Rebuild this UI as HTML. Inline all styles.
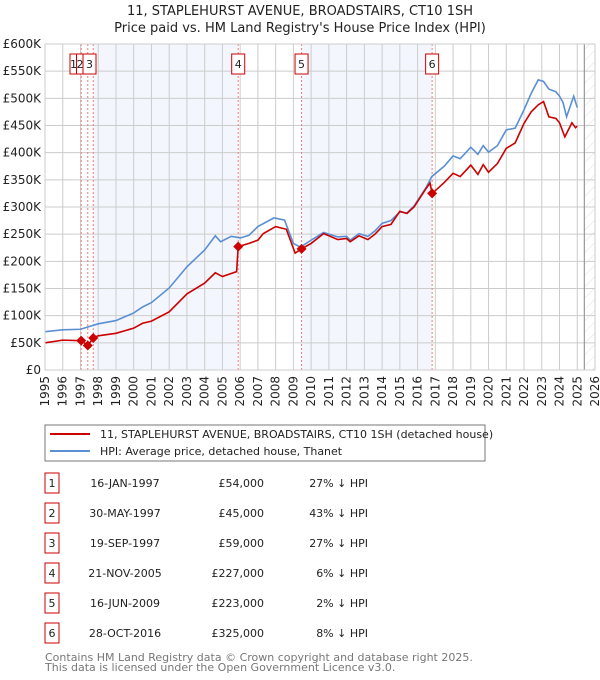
<!DOCTYPE html>
<html><head><meta charset="utf-8"><style>
body{margin:0;background:#fff;}
svg{display:block;font-family:"DejaVu Sans","Liberation Sans",sans-serif;}
</style></head><body>
<svg id="chart" width="600" height="680" viewBox="0 0 600 680" xmlns="http://www.w3.org/2000/svg">
<defs><pattern id="hatch" width="8" height="8" patternUnits="userSpaceOnUse" patternTransform="rotate(45)"><line x1="0" y1="0" x2="0" y2="8" stroke="#d8d8d8" stroke-width="0.8"/></pattern></defs>
<text x="300" y="15" text-anchor="middle" font-size="13" fill="#222">11, STAPLEHURST AVENUE, BROADSTAIRS, CT10 1SH</text>
<text x="300" y="32" text-anchor="middle" font-size="13" fill="#222">Price paid vs. HM Land Registry's House Price Index (HPI)</text>
<g id="plot"></g>
<g>
<rect x="45" y="425" width="440" height="36" fill="#fff" stroke="#777"/>
<line x1="50" y1="434" x2="90" y2="434" stroke="#cc0000" stroke-width="2"/>
<text x="100" y="438" font-size="11" fill="#222">11, STAPLEHURST AVENUE, BROADSTAIRS, CT10 1SH (detached house)</text>
<line x1="50" y1="451" x2="90" y2="451" stroke="#5b8fd4" stroke-width="2"/>
<text x="100" y="455" font-size="11" fill="#222">HPI: Average price, detached house, Thanet</text>
</g>
<g id="table"></g>
<text x="45" y="661" font-size="11" fill="#777">Contains HM Land Registry data © Crown copyright and database right 2025.</text>
<text x="45" y="671" font-size="11" fill="#777">This data is licensed under the Open Government Licence v3.0.</text>
</svg>
<script>
const hpiYears=[1995,1996,1997,1998,1999,2000,2000.5,2001,2002,2003,2004,2004.6,2004.9,2005.5,2006,2006.5,2007,2007.9,2008.5,2009,2009.4,2010,2010.7,2011,2011.5,2012,2012.2,2012.7,2013.2,2013.6,2014,2014.5,2015,2015.4,2015.8,2016.5,2016.8,2017.5,2018,2018.4,2019,2019.4,2019.7,2020,2020.5,2021,2021.5,2022,2022.4,2022.8,2023.1,2023.4,2023.8,2024,2024.2,2024.4,2024.8,2025];
const hpiValues=[70.5,74,75,85,91,105,116,124,151,190,221,247,236,246,243,248,264,280,276,233,226,239,253,250,245,246,239,251,246,256,270,275,291,289,302,337,356,375,394,389,410,397,413,401,413,442,445,479,509,534,531,517,512,504,492,466,504,483];
const propYears=[1995,1996,1997.04,1997.41,1997.72,1998,1999,2000,2000.5,2001,2002,2003,2004,2004.6,2005,2005.8,2005.89,2006.5,2007,2007.3,2008,2008.6,2009.1,2009.46,2010,2010.7,2011,2011.5,2012,2012.2,2012.7,2013.2,2013.6,2014,2014.5,2015,2015.4,2015.8,2016.5,2016.7,2016.82,2017.2,2017.5,2018,2018.4,2019,2019.4,2019.7,2020,2020.5,2021,2021.5,2022,2022.4,2022.8,2023.1,2023.4,2023.8,2024,2024.3,2024.7,2024.9,2025];
const propValues=[50,55,54,45,59,63,67.5,77,86,90,107,140,160,179,172,181,227,233,239,251,264,259,215,223,233,251,247,240,242,236,247,240,250,264,268,292,288,300,335,344,325,336,345,362,356,377,360,378,364,380,408,418,454,475,488,494,466,463,455,429,455,446,449];
const saleLabels=["1","2","3","4","5","6"];
const saleYears=[1997.04,1997.41,1997.72,2005.89,2009.46,2016.82];
const salePrices=[54,45,59,227,223,325];
const saleDates=["16-JAN-1997","30-MAY-1997","19-SEP-1997","21-NOV-2005","16-JUN-2009","28-OCT-2016"];
const salePriceText=["£54,000","£45,000","£59,000","£227,000","£223,000","£325,000"];
const salePct=["27% ↓ HPI","43% ↓ HPI","27% ↓ HPI","6% ↓ HPI","2% ↓ HPI","8% ↓ HPI"];
const yTicks=[0,50,100,150,200,250,300,350,400,450,500,550,600];
const yTickLabels=["£0","£50K","£100K","£150K","£200K","£250K","£300K","£350K","£400K","£450K","£500K","£550K","£600K"];
const xTicks=[1995,1996,1997,1998,1999,2000,2001,2002,2003,2004,2005,2006,2007,2008,2009,2010,2011,2012,2013,2014,2015,2016,2017,2018,2019,2020,2021,2022,2023,2024,2025,2026];

const L=45,R=595,T=44,B=370,X0=1995,X1=2026,YMAX=600;
const sx=y=>L+(y-X0)/(X1-X0)*(R-L);
const sy=v=>B-v/YMAX*(B-T);
const NS="http://www.w3.org/2000/svg";
const plot=document.getElementById('plot');
function mk(tag,attrs,parent){const e=document.createElementNS(NS,tag);for(const k in attrs)e.setAttribute(k,attrs[k]);(parent||plot).appendChild(e);return e;}

let e;
e=mk('rect',{x:sx(saleYears[2]),y:T,width:sx(saleYears[3])-sx(saleYears[2]),height:B-T,fill:'#f3f6fd'});


e=mk('rect',{x:sx(saleYears[4]),y:T,width:sx(saleYears[5])-sx(saleYears[4]),height:B-T,fill:'#f3f6fd'});


e=mk('rect',{x:sx(2025.4),y:T,width:R-sx(2025.4),height:B-T,fill:'url(#hatch)'});


xTicks.forEach((t,i)=>{
 e=mk('line',{x1:sx(t),x2:sx(t),y1:T,y2:B,stroke:'#ccc','stroke-width':1});
 
 
 e=mk('text',{x:0,y:0,transform:`translate(${sx(t)+4},${B+6}) rotate(-90)`,'text-anchor':'end','font-size':12,fill:'#222'});
 e.textContent=t;
 
 
});
yTicks.forEach((t,i)=>{
 e=mk('line',{x1:L,x2:R,y1:sy(t),y2:sy(t),stroke:'#ccc','stroke-width':1});
 
 
 e=mk('text',{x:L-4,y:sy(t)+4,'text-anchor':'end','font-size':12,fill:'#222'});
 e.textContent=yTickLabels[i];
 
 
});
e=mk('line',{x1:sx(2025.4),x2:sx(2025.4),y1:T,y2:B,stroke:'#999','stroke-width':1.2});


saleYears.forEach((y,i)=>{
 e=mk('line',{x1:sx(y),x2:sx(y),y1:T,y2:B,stroke:'#f37a7a','stroke-width':1,'stroke-dasharray':'2,2'});
 
 
});
e=mk('polyline',{points:hpiYears.map((y,i)=>sx(y)+','+sy(hpiValues[i])).join(' '),fill:'none',stroke:'#5b8fd4','stroke-width':1.6});


e=mk('polyline',{points:propYears.map((y,i)=>sx(y)+','+sy(propValues[i])).join(' '),fill:'none',stroke:'#cc0000','stroke-width':1.6});


saleYears.forEach((y,i)=>{
 const cx=sx(y),cy=sy(salePrices[i]);
 e=mk('path',{d:`M${cx},${cy-5}L${cx+5},${cy}L${cx},${cy+5}L${cx-5},${cy}Z`,fill:'#cc0000'});
 
 
});
saleYears.forEach((y,i)=>{
 let cx=sx(y); if(i<3) cx=[73.5,80,89.5][i];
 const w=i<2?7:13;
 e=mk('rect',{x:cx-w/2,y:54,width:w,height:20,fill:'#fff',stroke:'#cc0000','stroke-width':1});
 
 
 e=mk('text',{x:cx,y:68,'text-anchor':'middle','font-size':11,fill:'#222'});
 e.textContent=saleLabels[i];
 
 
});
const tb=document.getElementById('table');
saleLabels.forEach((s,i)=>{
 const cy=483+i*30;
 e=mk('rect',{x:45,y:cy-10,width:14,height:20,fill:'#fff',stroke:'#cc0000','stroke-width':1},tb);
 
 
 e=mk('text',{x:52,y:cy+4,'text-anchor':'middle','font-size':11,fill:'#222'},tb);
 e.textContent=s;
 
 
 e=mk('text',{x:125,y:cy+4,'text-anchor':'middle','font-size':11,fill:'#222'},tb);
 e.textContent=saleDates[i];
 
 
 e=mk('text',{x:264,y:cy+4,'text-anchor':'end','font-size':11,fill:'#222'},tb);
 e.textContent=salePriceText[i];
 
 
 e=mk('text',{x:368,y:cy+4,'text-anchor':'end','font-size':11,fill:'#222'},tb);
 e.textContent=salePct[i];
 
 
});
e=mk('rect',{x:L,y:T,width:R-L,height:B-T,fill:'none',stroke:'#ccc','stroke-width':1});


</script>
</body></html>
